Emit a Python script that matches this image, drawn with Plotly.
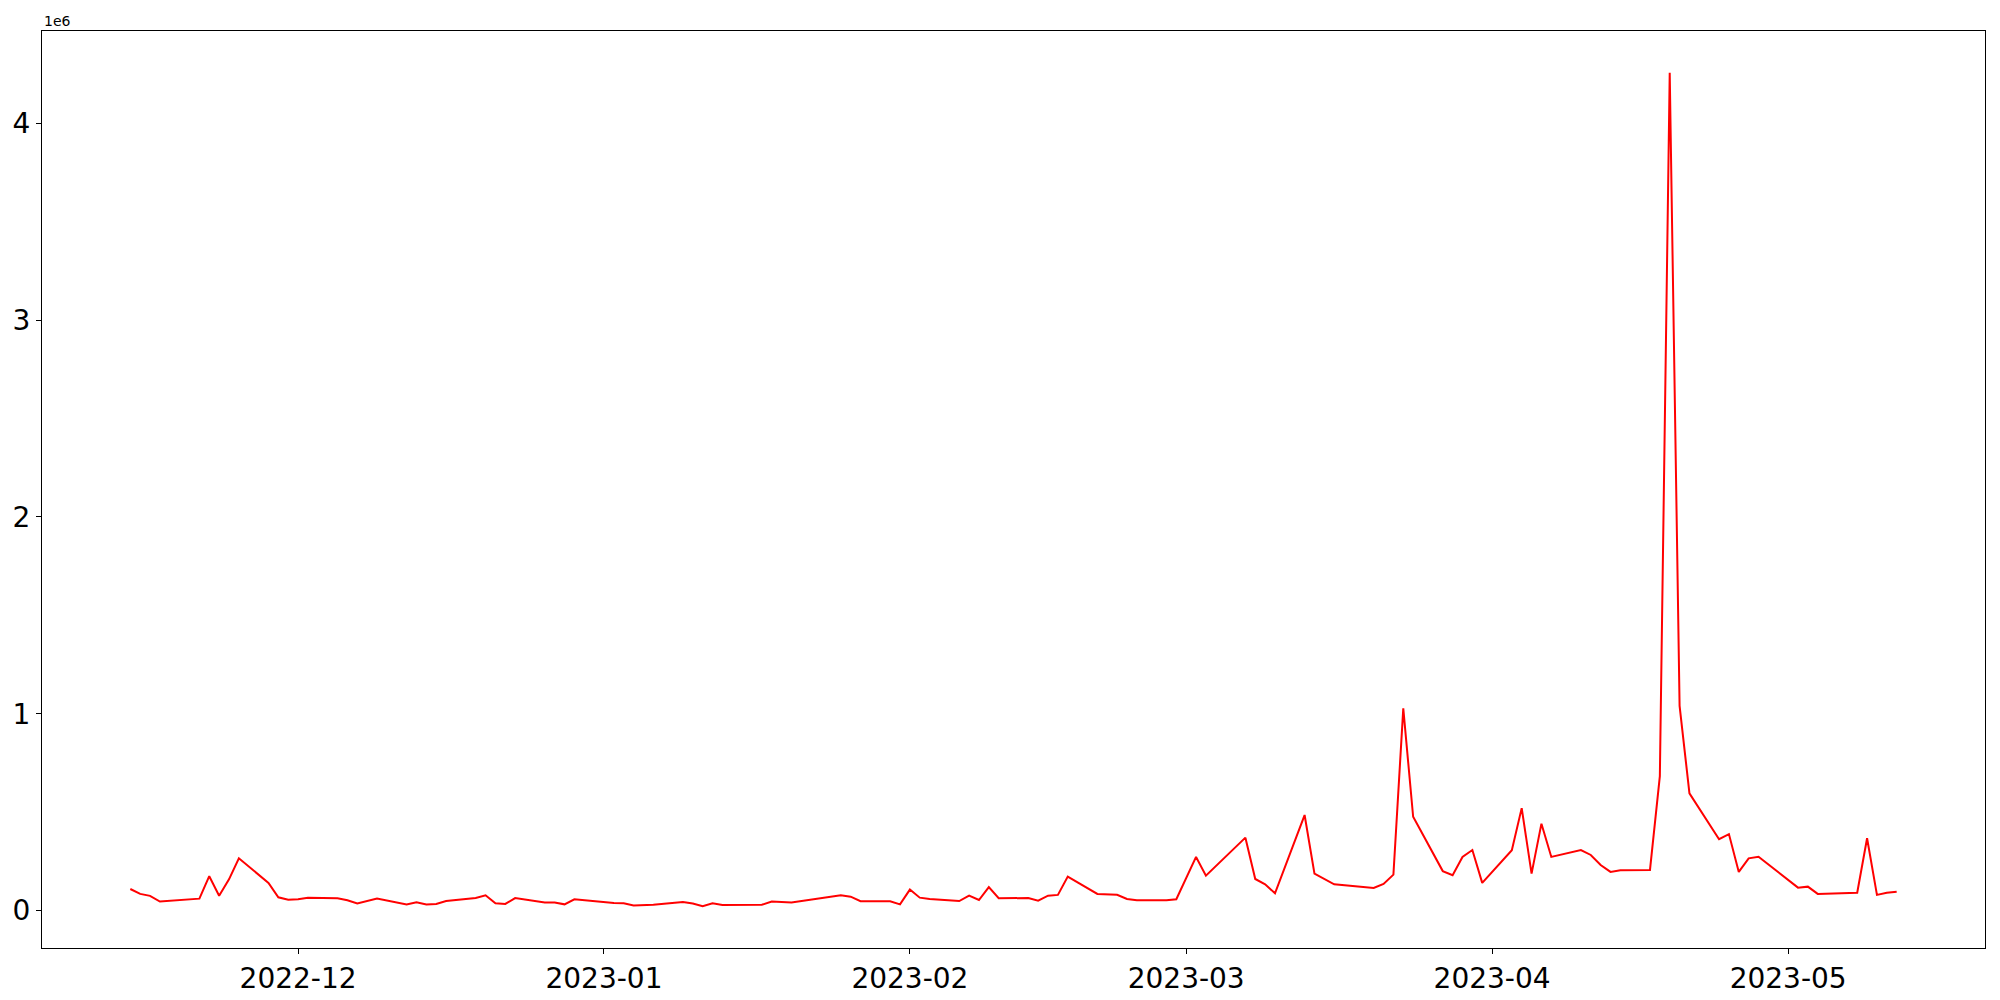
import plotly.graph_objects as go
import pandas as pd

dates = [
    "2022-11-14", "2022-11-15", "2022-11-16", "2022-11-17", "2022-11-21", "2022-11-22",
    "2022-11-23", "2022-11-24", "2022-11-25", "2022-11-28", "2022-11-29", "2022-11-30",
    "2022-12-01", "2022-12-02", "2022-12-05", "2022-12-06", "2022-12-07", "2022-12-08",
    "2022-12-09", "2022-12-12", "2022-12-13", "2022-12-14", "2022-12-15", "2022-12-16",
    "2022-12-19", "2022-12-20", "2022-12-21", "2022-12-22", "2022-12-23", "2022-12-26",
    "2022-12-27", "2022-12-28", "2022-12-29", "2023-01-02", "2023-01-03", "2023-01-04",
    "2023-01-06", "2023-01-09", "2023-01-10", "2023-01-11", "2023-01-12", "2023-01-13",
    "2023-01-17", "2023-01-18", "2023-01-20", "2023-01-25", "2023-01-26", "2023-01-27",
    "2023-01-30", "2023-01-31", "2023-02-01", "2023-02-02", "2023-02-03", "2023-02-06",
    "2023-02-07", "2023-02-08", "2023-02-09", "2023-02-10", "2023-02-13", "2023-02-14",
    "2023-02-15", "2023-02-16", "2023-02-17", "2023-02-20", "2023-02-22", "2023-02-23",
    "2023-02-24", "2023-02-27", "2023-02-28", "2023-03-02", "2023-03-03", "2023-03-07",
    "2023-03-08", "2023-03-09", "2023-03-10", "2023-03-13", "2023-03-14", "2023-03-16",
    "2023-03-20", "2023-03-21", "2023-03-22", "2023-03-23", "2023-03-24", "2023-03-27",
    "2023-03-28", "2023-03-29", "2023-03-30", "2023-03-31", "2023-04-03", "2023-04-04",
    "2023-04-05", "2023-04-06", "2023-04-07", "2023-04-10", "2023-04-11", "2023-04-12",
    "2023-04-13", "2023-04-14", "2023-04-17", "2023-04-18", "2023-04-19", "2023-04-20",
    "2023-04-21", "2023-04-24", "2023-04-25", "2023-04-26", "2023-04-27", "2023-04-28",
    "2023-05-02", "2023-05-03", "2023-05-04", "2023-05-08", "2023-05-09", "2023-05-10",
    "2023-05-11", "2023-05-12",
]

values = [
    109000, 84000, 74000, 45000, 60000, 174000,
    75000, 158000, 265000, 140000, 67000, 55000,
    57000, 64000, 62000, 52000, 35000, 48000,
    60000, 30000, 42000, 30000, 33000, 48000,
    63000, 77000, 36000, 33000, 63000, 40000,
    40000, 31000, 57000, 38000, 36000, 25000,
    29000, 43000, 35000, 21000, 36000, 28000,
    29000, 45000, 40000, 77000, 70000, 47000,
    47000, 31000, 106000, 65000, 58000, 48000,
    75000, 53000, 119000, 62000, 63000, 50000,
    75000, 79000, 172000, 84000, 80000, 58000,
    52000, 52000, 57000, 272000, 177000, 370000,
    160000, 133000, 87000, 485000, 187000, 133000,
    114000, 135000, 182000, 1027000, 476000, 200000,
    179000, 272000, 307000, 140000, 306000, 520000,
    187000, 441000, 272000, 307000, 282000, 231000,
    196000, 204000, 206000, 683000, 4258000, 1040000,
    595000, 362000, 388000, 196000, 265000, 273000,
    116000, 121000, 84000, 90000, 367000, 79000,
    90000, 95000,
]

x_tick_vals = ["2022-12-01", "2023-01-01", "2023-02-01", "2023-03-01", "2023-04-01", "2023-05-01"]
x_tick_text = ["2022-12", "2023-01", "2023-02", "2023-03", "2023-04", "2023-05"]
y_tick_vals = [0, 1000000, 2000000, 3000000, 4000000]
y_tick_text = ["0", "1", "2", "3", "4"]

dt = pd.to_datetime(dates)
span = dt.max() - dt.min()
x_range = [dt.min() - 0.05 * span, dt.max() + 0.05 * span]
vmin, vmax = min(values), max(values)
vspan = vmax - vmin
y_range = [vmin - 0.05 * vspan, vmax + 0.05 * vspan]

fig = go.Figure()
fig.add_trace(go.Scatter(x=dt, y=values, mode="lines",
                         line=dict(color="red", width=2), showlegend=False))

axis_common = dict(showline=True, linecolor="black", linewidth=1, mirror=True,
                   ticks="outside", ticklen=5, tickwidth=1, tickcolor="black",
                   showgrid=False, zeroline=False, automargin=False,
                   tickfont=dict(family="DejaVu Sans", size=28, color="black"))

fig.update_xaxes(range=x_range, tickmode="array",
                 tickvals=pd.to_datetime(x_tick_vals), ticktext=x_tick_text, **axis_common)
fig.update_yaxes(range=y_range, tickmode="array",
                 tickvals=y_tick_vals, ticktext=y_tick_text, **axis_common)

fig.add_annotation(text="1e6", xref="paper", yref="paper", x=0, y=1,
                   xanchor="left", yanchor="bottom", showarrow=False,
                   font=dict(family="DejaVu Sans", size=14, color="black"))

# page body has an 8px default margin; compensate so the axes land where the reference has them
fig.update_layout(width=1992, height=992, plot_bgcolor="white", paper_bgcolor="white",
                  margin=dict(l=34, r=15, t=23, b=52, autoexpand=False))

fig.write_html("out.html")
